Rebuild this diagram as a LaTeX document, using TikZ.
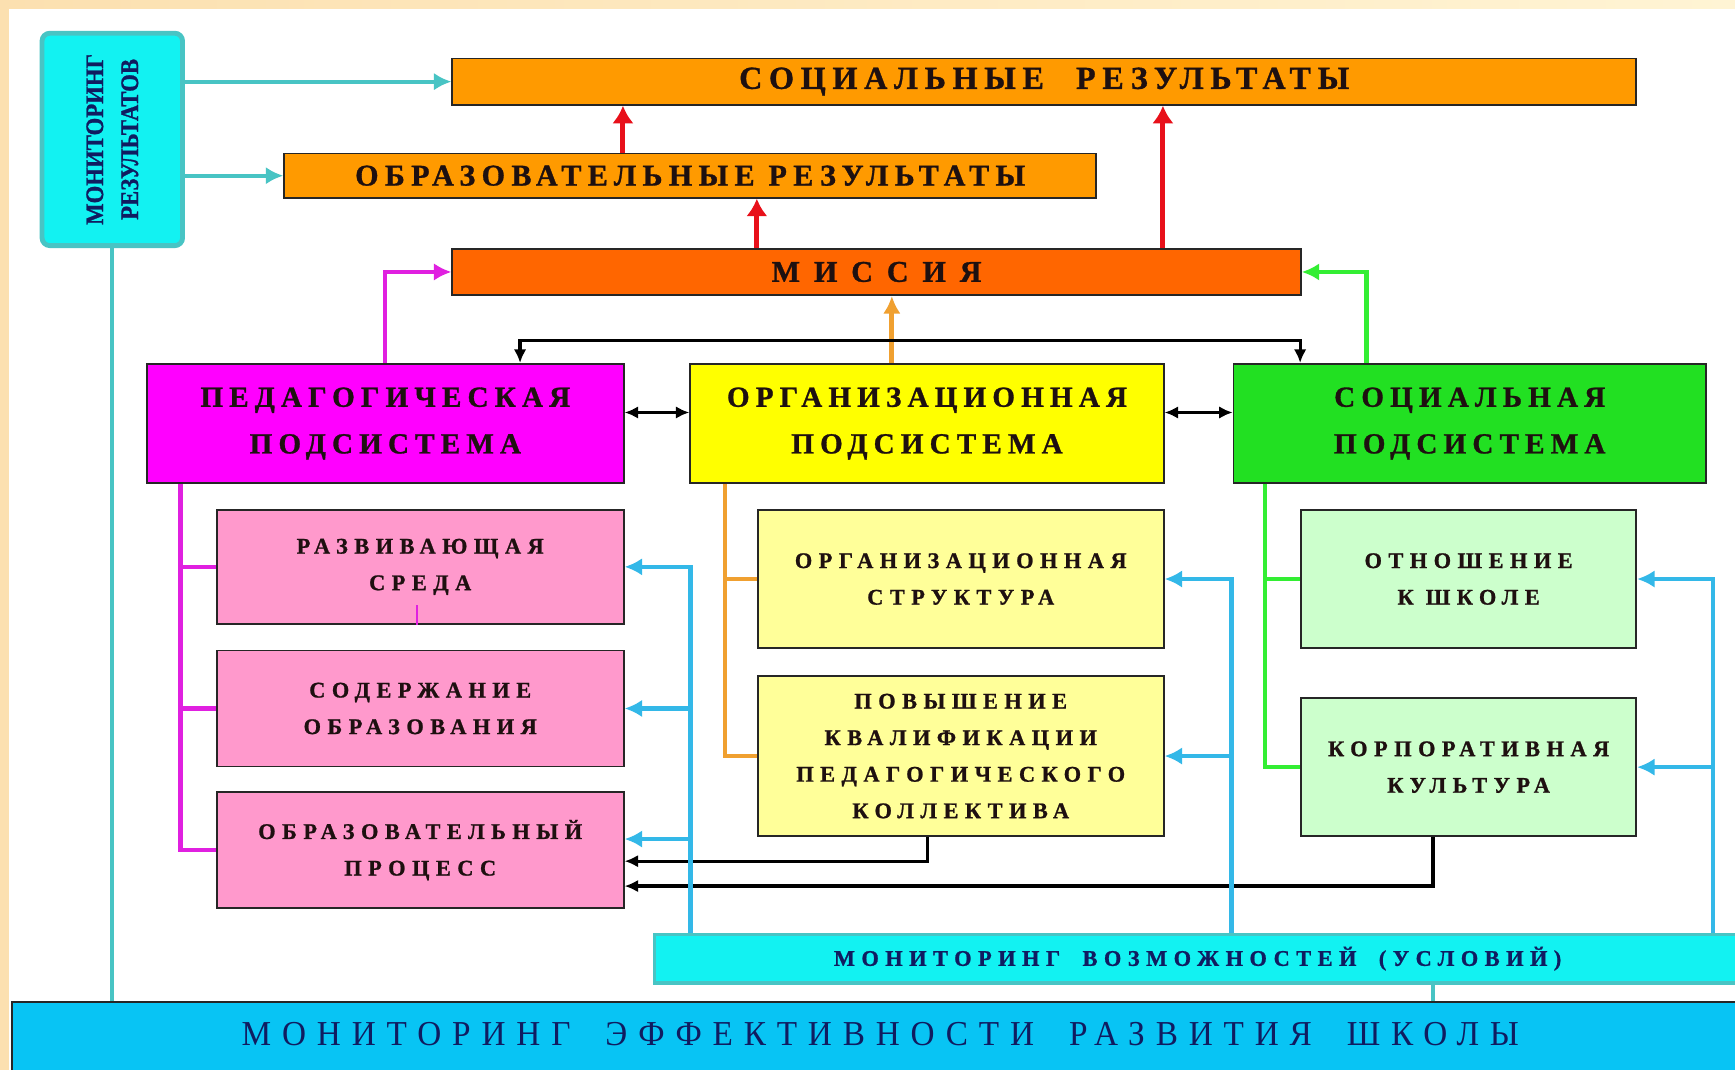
\documentclass[tikz,border=0pt]{standalone}
\usepackage{fontspec}
\usetikzlibrary{arrows.meta}
\newfontfamily\headfont[LetterSpace=21,FakeBold=1]{Liberation Serif}
\newfontfamily\subfont[LetterSpace=29,FakeBold=1]{Liberation Serif}
\newfontfamily\narrowfont[FakeStretch=0.9,FakeBold=1]{Liberation Serif}
\newfontfamily\efffont[FakeStretch=0.95,LetterSpace=31]{Liberation Serif}

\definecolor{cream}{HTML}{FCE0B0}
\definecolor{creamlight}{HTML}{FFF4D4}
\definecolor{mcyan}{HTML}{12F2F2}
\definecolor{mteal}{HTML}{48C4C4}
\definecolor{resorange}{HTML}{FF9A00}
\definecolor{misorange}{HTML}{FF6600}
\definecolor{arrred}{HTML}{E8101A}
\definecolor{pedmag}{HTML}{FF00FF}
\definecolor{busmag}{HTML}{E020E0}
\definecolor{orgyel}{HTML}{FFFF00}
\definecolor{socgreen}{HTML}{22E022}
\definecolor{busgreen}{HTML}{33EE33}
\definecolor{busorange}{HTML}{F0A030}
\definecolor{subpink}{HTML}{FF99CC}
\definecolor{subyel}{HTML}{FFFF99}
\definecolor{subgreen}{HTML}{CCFFCC}
\definecolor{arrblue}{HTML}{33B8E8}
\definecolor{effblue}{HTML}{08C4F4}
\definecolor{textnavy}{HTML}{101C60}
\definecolor{textdark}{HTML}{1E1010}

\tikzset{
  box/.style={draw=black!85, line width=0.9pt, anchor=north west, inner sep=0pt, align=center, text=textdark},
  resbox/.style={box, font=\headfont\bfseries\fontsize{15.5}{18}\selectfont},
  sysbox/.style={box, font=\headfont\bfseries\fontsize{15}{24}\selectfont},
  partbox/.style={box, font=\subfont\bfseries\fontsize{11.5}{18.8}\selectfont},
  mresbox/.style={rounded corners=4pt, fill=mcyan, draw=mteal, line width=2.5pt, inner sep=0pt, align=center, text=textnavy, font=\narrowfont\bfseries\fontsize{13}{18}\selectfont},
  tealline/.style={mteal, line width=2.2pt},
  redarrow/.style={>={Latex[length=9pt,width=11pt]}, ->, arrred, line width=2.6pt},
  magline/.style={busmag, line width=2.2pt},
  grnline/.style={busgreen, line width=1.9pt},
  orgline/.style={busorange, line width=1.9pt},
  blackarrow/.style={>={Latex[length=7pt,width=6.5pt]}, black, line width=1.7pt},
  bluearrow/.style={->, arrblue, line width=2.2pt}
}

\begin{document}
\begin{tikzpicture}[x=0.02cm, y=-0.02cm, >={Latex[length=9pt,width=9pt]}]
\useasboundingbox (0,0) rectangle (1568,967);
\shade[left color=cream, right color=creamlight] (0,0) rectangle (1568,967);
\fill[white] (8,8) rectangle (1568,967);

\node[mresbox, rotate=90, minimum width=3.84cm, minimum height=2.54cm] (mres) at (101.5,126) {МОНИТОРИНГ\\РЕЗУЛЬТАТОВ};

\node[resbox, fill=resorange, font=\headfont\bfseries\fontsize{16.5}{18}\selectfont, minimum width=21.4cm, minimum height=0.84cm] (socres) at (408,52) {СОЦИАЛЬНЫЕ\quad РЕЗУЛЬТАТЫ};
\node[resbox, fill=resorange, minimum width=14.68cm, minimum height=0.8cm] (edres) at (256,138) {ОБРАЗОВАТЕЛЬНЫЕ РЕЗУЛЬТАТЫ};
\node[resbox, fill=misorange, minimum width=15.34cm, minimum height=0.84cm] (mission) at (408,224) {М И С С И Я};

\node[sysbox, fill=pedmag, minimum width=8.62cm, minimum height=2.16cm] (ped) at (132,328) {ПЕДАГОГИЧЕСКАЯ\\ПОДСИСТЕМА};
\node[sysbox, fill=orgyel, minimum width=8.56cm, minimum height=2.16cm] (org) at (623,328) {ОРГАНИЗАЦИОННАЯ\\ПОДСИСТЕМА};
\node[sysbox, fill=socgreen, minimum width=8.54cm, minimum height=2.16cm] (soc) at (1114,328) {СОЦИАЛЬНАЯ\\ПОДСИСТЕМА};

\node[partbox, fill=subpink, minimum width=7.36cm, minimum height=2.06cm] (razv) at (195,460) {РАЗВИВАЮЩАЯ\\СРЕДА};
\node[partbox, fill=subpink, minimum width=7.36cm, minimum height=2.1cm] (sod) at (195,587) {СОДЕРЖАНИЕ\\ОБРАЗОВАНИЯ};
\node[partbox, fill=subpink, minimum width=7.36cm, minimum height=2.1cm] (proc) at (195,715) {ОБРАЗОВАТЕЛЬНЫЙ\\ПРОЦЕСС};
\node[partbox, fill=subyel, minimum width=7.34cm, minimum height=2.5cm] (struct) at (684,460) {ОРГАНИЗАЦИОННАЯ\\СТРУКТУРА};
\node[partbox, fill=subyel, minimum width=7.34cm, minimum height=2.9cm] (qual) at (684,610) {ПОВЫШЕНИЕ\\КВАЛИФИКАЦИИ\\ПЕДАГОГИЧЕСКОГО\\КОЛЛЕКТИВА};
\node[partbox, fill=subgreen, minimum width=6.06cm, minimum height=2.5cm] (rel) at (1175,460) {ОТНОШЕНИЕ\\К ШКОЛЕ};
\node[partbox, fill=subgreen, minimum width=6.06cm, minimum height=2.5cm] (corp) at (1175,630) {КОРПОРАТИВНАЯ\\КУЛЬТУРА};

\node[box, fill=mcyan, draw=mteal, line width=1.6pt, text=textnavy, font=\subfont\bfseries\fontsize{11.5}{14}\selectfont, minimum width=19.64cm, minimum height=0.88cm] (mopp) at (590,843) {МОНИТОРИНГ\quad ВОЗМОЖНОСТЕЙ\quad (УСЛОВИЙ)};
\node[box, fill=effblue, text=textnavy, font=\efffont\fontsize{18}{20}\selectfont, minimum width=31.4cm, inner ysep=0pt, text height=0.78cm, text depth=0.92cm] (eff) at (10,905) {МОНИТОРИНГ\quad ЭФФЕКТИВНОСТИ\quad РАЗВИТИЯ\quad ШКОЛЫ};

\coordinate (r1) at (563,0);
\coordinate (r2) at (684,0);
\coordinate (r3) at (1051,0);
\coordinate (pm) at (348,0);
\coordinate (gm) at (1235,0);
\coordinate (om) at (806,0);
\coordinate (bt) at (470,308);
\coordinate (br) at (1175,0);
\coordinate (pb) at (163,0);
\coordinate (ob) at (655,0);
\coordinate (gb) at (1143,0);
\coordinate (qx) at (838,0);
\coordinate (cx) at (1295,0);
\coordinate (bx1) at (624,0);
\coordinate (bx2) at (1113,0);
\coordinate (bx3) at (1548,0);
\coordinate (tl) at (1295,0);
\coordinate (tk) at (377,0);

\draw[tealline, ->] (mres.south |- socres.west) -- (socres.west);
\draw[tealline, ->] (mres.south |- edres.west) -- (edres.west);
\draw[tealline] (mres.west) -- (mres.west |- eff.north);
\draw[tealline] (mopp.south -| tl) -- (eff.north -| tl);

\draw[redarrow] (edres.north -| r1) -- (socres.south -| r1);
\draw[redarrow] (mission.north -| r2) -- (edres.south -| r2);
\draw[redarrow] (mission.north -| r3) -- (socres.south -| r3);

\draw[magline, ->] (ped.north -| pm) |- (mission.west);
\draw[grnline, line width=2.2pt, ->] (soc.north -| gm) |- (mission.east);
\draw[orgline, line width=2.6pt, ->] (org.north -| om) -- (mission.south -| om);

\draw[blackarrow, <->] (ped.north -| bt) -- (bt) -| (soc.north -| br);
\draw[blackarrow, <->] ([yshift=0.2cm]ped.east) -- ([yshift=0.2cm]org.west);
\draw[blackarrow, <->] ([yshift=0.2cm]org.east) -- ([yshift=0.2cm]soc.west);

\draw[magline] (ped.south -| pb) |- (proc.west);
\draw[magline] (pb |- razv.west) -- (razv.west);
\draw[magline] (pb |- sod.west) -- (sod.west);
\draw[busmag, line width=0.8pt] (razv.south -| tk) -- ++(0,-18);

\draw[orgline] (org.south -| ob) |- (qual.west);
\draw[orgline] (ob |- struct.west) -- (struct.west);
\draw[grnline] (soc.south -| gb) |- (corp.west);
\draw[grnline] (gb |- rel.west) -- (rel.west);

\draw[blackarrow, ->] (qual.south -| qx) |- ([yshift=-0.2cm]proc.east);
\draw[blackarrow, ->] (corp.south -| cx) |- ([yshift=-0.65cm]proc.east);

\draw[bluearrow] (mopp.north -| bx1) |- (razv.east);
\draw[bluearrow] (bx1 |- sod.east) -- (sod.east);
\draw[bluearrow] ([yshift=0.2cm]bx1 |- proc.east) -- ([yshift=0.2cm]proc.east);
\draw[bluearrow] (mopp.north -| bx2) |- (struct.east);
\draw[bluearrow] (bx2 |- qual.east) -- (qual.east);
\draw[bluearrow] (mopp.north -| bx3) |- (rel.east);
\draw[bluearrow] (bx3 |- corp.east) -- (corp.east);
\end{tikzpicture}
\end{document}
